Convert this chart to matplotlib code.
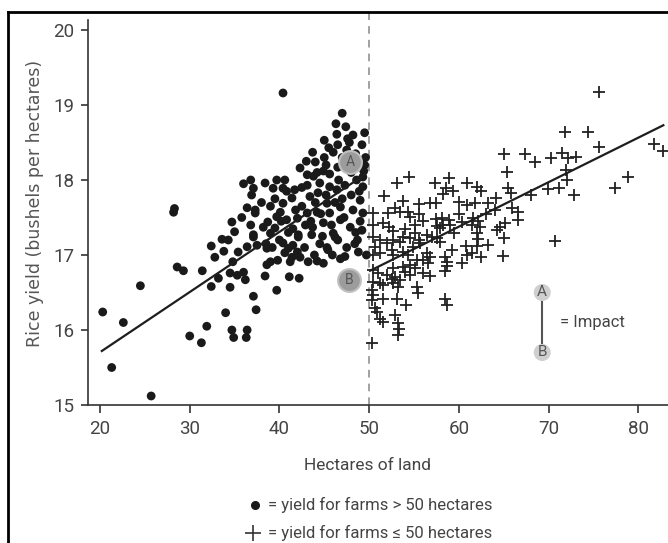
import matplotlib
matplotlib.use("Agg")
import matplotlib.pyplot as plt
from matplotlib.lines import Line2D
import numpy as np

# ---------------- data ----------------
big_x = [20.3, 22.6, 21.3, 25.7, 24.5, 28.2, 28.3, 28.6, 29.3, 30.0, 31.3, 31.9, 31.4, 32.4, 32.4,
         32.8, 33.6, 34.3, 34.7, 34.0, 33.2, 34.5, 34.7, 40.4,
         37.1, 37.4, 34.9, 36.4, 36.3, 39.7, 38.4, 41.1, 42.2, 36.2, 35.3, 34.8, 34.5, 36.0, 35.4,
         36.4, 37.5, 38.6, 40.4, 41.0, 41.5, 42.0, 40.6, 41.4, 42.3, 39.0, 39.8, 41.2, 38.6, 43.2,
         44.2, 44.9, 45.4, 45.9, 48.8, 37.1, 39.0, 42.1, 43.6, 46.2, 46.5, 48.7, 35.0, 37.1, 46.8, 47.3,
         47.0, 46.3, 47.4, 46.4, 48.2, 47.6, 49.5, 45.0, 49.2, 45.5, 46.5, 46.0, 47.5, 43.7, 44.0,
         42.3, 46.5, 44.2, 44.9, 45.6, 43.1, 40.6, 39.7, 38.4, 39.3, 40.4, 37.1, 36.9, 36.4, 37.3,
         37.3, 41.7, 41.4, 40.4, 40.1, 43.4, 44.3, 43.1, 44.5, 45.6, 46.4, 47.3, 48.6, 49.3, 49.3,
         49.0, 49.3, 48.2, 46.8, 45.3, 45.6, 44.2, 43.1, 42.0, 40.8, 39.7, 38.7, 38.2, 39.5, 43.7,
         44.9, 46.8, 47.9, 49.2, 46.0, 42.1, 36.0, 36.8, 49.6, 49.5, 49.4, 48.0, 47.0, 42.5, 41.0,
         44.5, 47.5, 49.0, 45.0, 43.0, 48.5, 49.7, 38.0, 35.8, 33.8, 44.0, 47.8,
         41.8, 43.5, 45.8, 44.8, 40.0, 42.8, 46.6, 45.2, 48.4, 39.0,
         38.5, 39.5, 40.8, 42.5, 43.8, 45.2, 47.0, 48.0, 48.9, 46.2, 44.6, 42.9, 41.5, 40.2, 47.2,
         48.5, 45.3, 43.9, 39.2, 36.8]
big_y = [16.24, 16.10, 15.50, 15.12, 16.59, 17.57, 17.62, 16.84, 16.79, 15.92, 15.83, 16.05, 16.79, 16.58, 17.12,
         16.97, 17.21, 17.20, 17.44, 16.23, 16.69, 16.57, 16.00, 19.16,
         16.45, 16.27, 15.90, 16.00, 15.90, 16.53, 16.72, 16.71, 16.69, 16.67, 16.73, 16.91, 16.76, 16.77, 17.04,
         17.11, 17.13, 17.09, 17.16, 17.09, 17.13, 17.04, 17.03, 16.97, 16.97, 16.91, 16.93, 16.91, 16.87, 16.91,
         16.92, 16.89, 17.07, 17.00, 17.04, 17.24, 17.29, 17.24, 17.27, 17.24, 17.20, 17.20, 17.31, 17.27, 16.95, 16.98,
         18.89, 18.75, 18.71, 18.61, 18.60, 18.55, 18.63, 18.53, 18.47, 18.43, 18.47, 18.37, 18.40, 18.37, 18.24,
         18.16, 18.17, 18.10, 18.12, 18.08, 18.07, 18.00, 18.00, 17.96, 17.89, 17.89, 17.89, 17.80, 17.63, 17.60,
         17.56, 17.87, 17.76, 17.69, 17.57, 17.78, 17.83, 17.93, 17.96, 17.91, 17.87, 17.93, 18.00, 18.04, 17.91,
         17.73, 17.56, 17.60, 17.64, 17.69, 17.56, 17.57, 17.56, 17.49, 17.47, 17.51, 17.44, 17.37, 17.36, 17.37,
         17.43, 17.47, 17.37, 17.33, 17.29, 17.27, 17.95, 18.00, 18.30, 18.20, 18.12, 17.80, 17.75, 17.65, 17.30,
         17.15, 17.10, 17.45, 18.30, 18.25, 18.35, 17.00, 17.70, 17.50, 17.05, 17.70, 18.50,
         17.60, 17.45, 17.40, 17.25, 17.20, 17.10, 18.00, 17.80, 17.15, 17.65,
         17.15, 17.75, 17.85, 17.90, 18.05, 18.20, 18.30, 18.10, 17.85, 17.70, 17.55, 17.40, 17.35, 17.45, 17.50,
         17.30, 17.10, 17.00, 17.10, 17.40]

small_x = [65.0, 65.4, 54.4, 53.1, 57.3, 58.9, 60.9, 62.0, 62.5, 58.6, 59.4, 58.2, 51.7, 53.8, 55.6,
           56.8, 57.5, 60.0, 60.9, 61.8, 63.3, 64.1, 52.9, 53.4, 54.3, 54.6, 55.6, 50.4, 52.1, 57.5,
           58.1, 58.9, 57.6, 57.9, 58.2, 59.0, 60.4, 61.6, 62.1, 61.5, 62.4, 64.3, 64.6, 65.2, 62.0,
           62.1, 65.0, 50.4, 51.5, 52.2, 52.7, 55.1, 55.1, 53.8, 54.6, 55.6, 56.5, 57.0, 57.6, 50.4,
           51.2, 52.0, 52.7, 53.4, 54.9, 55.7, 57.9, 59.2, 60.8, 62.0, 63.3, 60.9, 61.5, 62.5, 64.9,
           50.7, 51.2, 50.4, 52.6, 52.7, 53.8, 54.3, 56.5, 56.8, 55.3, 56.0, 56.6, 58.5, 58.7, 58.7,
           58.5, 60.4, 54.6, 55.1, 52.7, 53.8, 50.4, 51.0, 52.0, 52.6, 52.9, 53.4, 54.0, 54.6, 56.0,
           56.8, 50.4, 51.2, 51.5, 52.7, 53.2, 55.3, 55.5, 50.3, 50.4, 50.3, 51.5, 53.1, 54.1, 50.7,
           50.9, 58.5, 58.7, 51.2, 51.5, 52.9, 53.2, 53.3, 53.2, 50.3,
           75.6, 71.8, 74.4, 75.6, 81.8, 82.8, 67.4, 68.5, 70.3, 71.5, 72.2, 73.1, 72.0, 72.1, 69.9,
           71.2, 72.8, 65.5, 65.8, 68.0, 78.9, 77.4, 65.9, 66.6, 66.6, 70.7, 63.0, 64.0, 60.0, 56.0,
           59.5, 54.0]
small_y = [18.35, 18.11, 18.04, 17.96, 17.96, 18.03, 17.96, 17.91, 17.85, 17.89, 17.85, 17.81, 17.79, 17.72, 17.68,
           17.69, 17.69, 17.71, 17.67, 17.69, 17.69, 17.76, 17.63, 17.57, 17.57, 17.51, 17.55, 17.56, 17.56, 17.48,
           17.49, 17.47, 17.39, 17.36, 17.40, 17.40, 17.44, 17.49, 17.45, 17.40, 17.37, 17.33, 17.37, 17.43, 17.29,
           17.21, 17.23, 17.40, 17.43, 17.37, 17.32, 17.40, 17.29, 17.24, 17.23, 17.20, 17.27, 17.24, 17.23, 17.24,
           17.20, 17.16, 17.20, 17.17, 17.11, 17.16, 17.17, 17.07, 17.12, 17.12, 17.13, 17.00, 17.03, 16.97, 16.99,
           17.11, 17.03, 17.00, 17.07, 17.00, 17.04, 17.00, 17.03, 16.97, 16.93, 16.93, 16.89, 16.97, 16.91, 16.85,
           16.79, 16.89, 16.87, 16.83, 16.83, 16.84, 16.80, 16.76, 16.73, 16.68, 16.71, 16.67, 16.77, 16.73, 16.76,
           16.72, 16.64, 16.63, 16.60, 16.63, 16.57, 16.57, 16.49, 16.53, 16.47, 16.40, 16.41, 16.41, 16.33, 16.29,
           16.24, 16.41, 16.33, 16.15, 16.11, 16.20, 16.09, 16.01, 15.93, 15.83,
           19.17, 18.64, 18.64, 18.44, 18.48, 18.39, 18.35, 18.24, 18.29, 18.36, 18.29, 18.31, 18.13, 18.00, 17.88,
           17.89, 17.80, 17.89, 17.83, 17.80, 18.04, 17.89, 17.63, 17.57, 17.47, 17.19, 17.55, 17.60, 17.55, 17.45,
           17.30, 17.35]

fit_left_x = [20.2, 49.5]
fit_left_y = [15.72, 18.07]
fit_right_x = [50.1, 82.8]
fit_right_y = [16.79, 18.73]

point_a = (47.9, 18.24)
point_b = (47.8, 16.67)
key_a = (69.3, 16.50)
key_b = (69.3, 15.70)

x_ticks = [20, 30, 40, 50, 60, 70, 80]
y_ticks = [15, 16, 17, 18, 19, 20]
threshold = 50

# ---------------- figure ----------------
W, H = 668, 543
fig = plt.figure(figsize=(W / 100, H / 100), dpi=100)
tick_font = ['Roboto', 'DejaVu Sans']
text_font = ['Roboto', 'DejaVu Sans']

ax = fig.add_axes([88 / W, 138 / H, 580 / W, 385 / H])
ax.set_xlim(18.66, 83.32)
ax.set_ylim(15, 15 + 385 / 75)

for s in ['top', 'right']:
    ax.spines[s].set_visible(False)
for s in ['left', 'bottom']:
    ax.spines[s].set_color('#333333')
    ax.spines[s].set_linewidth(1.2)

ax.set_xticks(x_ticks)
ax.set_yticks(y_ticks)
ax.tick_params(axis='x', direction='out', length=6, width=1.2, color='#333333',
               labelsize=13.5, labelcolor='#444444', pad=5)
ax.tick_params(axis='y', direction='out', length=5, width=1.2, color='#333333',
               labelsize=13.5, labelcolor='#444444', pad=5)
for lab in ax.get_xticklabels() + ax.get_yticklabels():
    lab.set_family(tick_font)

# dashed threshold
ax.plot([threshold, threshold], [15, 20.25], ls=(0, (5, 4)), color='#888888', lw=1.1,
        clip_on=False, zorder=1)

# scatter
ax.scatter(big_x, big_y, s=40, color='#1a1a1a', edgecolors='none', zorder=3)
ax.scatter(small_x, small_y, s=64, marker='+', color='#222222', linewidths=1.3, zorder=3)

# fits
ax.plot(fit_left_x, fit_left_y, color='#1e1e1e', lw=1.6, zorder=4)
ax.plot(fit_right_x, fit_right_y, color='#1e1e1e', lw=1.6, zorder=4)

# A / B markers
for (px, py), lab in [(point_a, 'A'), (point_b, 'B')]:
    ax.scatter([px], [py], s=270, color='#9c9c9c', edgecolors='#c0c0c0', linewidths=1.5, zorder=5)
    ax.text(px, py, lab, ha='center', va='center', fontsize=10, color='#555555',
            family=text_font, zorder=6)

# impact key
ax.plot([key_a[0], key_b[0]], [key_a[1], key_b[1]], color='#555555', lw=1.5, zorder=4)
for (px, py), lab in [(key_a, 'A'), (key_b, 'B')]:
    ax.scatter([px], [py], s=150, color='#cfcfcf', edgecolors='none', zorder=5)
    ax.text(px, py, lab, ha='center', va='center', fontsize=11, color='#555555',
            family=text_font, zorder=6)
ax.text(key_a[0] + 2.0, (key_a[1] + key_b[1]) / 2, '= Impact', ha='left', va='center',
        fontsize=12, color='#444444', family=text_font)

# axis labels
ax.set_xlabel('Hectares of land', fontsize=12.5, color='#444444', family=text_font)
ax.xaxis.set_label_coords((367 - 88) / 580, (405 - 466) / 385)
ax.xaxis.label.set_va('center')
ax.set_ylabel('Rice yield (bushels per hectares)', fontsize=12.5, color='#555555',
              family=['DejaVu Sans'])
ax.yaxis.set_label_coords((35 - 88) / 580, (405 - 203) / 385)
ax.yaxis.label.set_va('center')

# bottom legend
fig.add_artist(Line2D([255 / W], [1 - 505 / H], marker='o', markersize=5.5, color='#1a1a1a',
                      ls='none', transform=fig.transFigure))
fig.text(268 / W, 1 - 505 / H, '= yield for farms > 50 hectares', ha='left', va='center',
         fontsize=12, color='#444444', family=text_font)
fig.add_artist(Line2D([253 / W], [1 - 533 / H], marker='+', markersize=11, markeredgewidth=1.2,
                      color='#333333', ls='none', transform=fig.transFigure))
fig.text(268 / W, 1 - 533 / H, '= yield for farms \u2264 50 hectares', ha='left', va='center',
         fontsize=12, color='#444444', family=text_font)

# outer frame (left and top edges)
fig.add_artist(Line2D([8 / W, 8 / W], [0, 1 - 12 / H], color='black', lw=2,
                      transform=fig.transFigure))
fig.add_artist(Line2D([8 / W, 1], [1 - 12 / H, 1 - 12 / H], color='black', lw=2,
                      transform=fig.transFigure))

fig.savefig('out.png', dpi=100)
